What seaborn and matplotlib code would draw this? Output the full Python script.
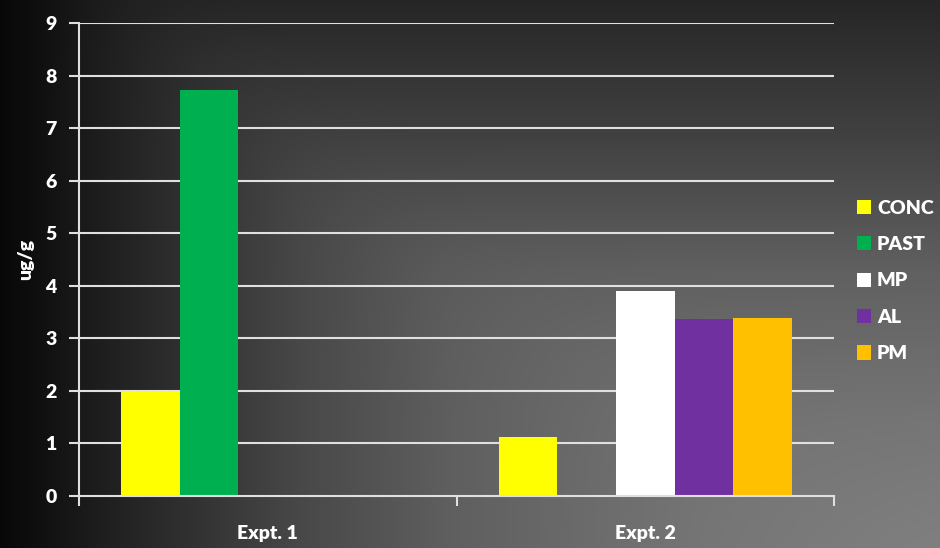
import numpy as np
import pandas as pd
import matplotlib
matplotlib.use("Agg")
import matplotlib.pyplot as plt
from matplotlib.patches import Patch
import seaborn as sns

# Data
experiments = ["Expt. 1", "Expt. 2"]
treatments = ["CONC", "PAST", "MP", "AL", "PM"]
expt1_values = [2.0, 7.73, 0.0, 0.0, 0.0]
expt2_values = [1.12, 0.0, 3.91, 3.36, 3.38]
colors = ["#FFFF00", "#00B050", "#FFFFFF", "#7030A0", "#FFC000"]
y_ticks = [0, 1, 2, 3, 4, 5, 6, 7, 8, 9]
y_label = "ug/g"

rows = []
for exp, vals in zip(experiments, [expt1_values, expt2_values]):
    for t, v in zip(treatments, vals):
        rows.append({"experiment": exp, "treatment": t, "value": v})
df = pd.DataFrame(rows)

sns.set_theme(style="white")
plt.rcParams["font.family"] = ["Lato", "DejaVu Sans"]
plt.rcParams["font.weight"] = "heavy"

W, H = 940, 548
fig = plt.figure(figsize=(W / 100, H / 100), dpi=100)

# Dark slide-style background gradient: dark at left and top, lighter toward lower right
bg = fig.add_axes([0, 0, 1, 1], zorder=-10)
xs = np.arange(W)
ys = np.arange(H)
hx = np.interp(xs, [0, 40, 100, 300, 450, 700, 940], [8, 16, 30, 72, 95, 118, 132])
hy = np.interp(ys, [0, 140, 270, 420, 548], [38, 66, 96, 118, 132])
HX, HY = np.meshgrid(hx, hy)
k = 7.0
val = -k * np.logaddexp(-HX / k, -HY / k)
val = np.clip(val, 0, 255) / 255.0
bg.imshow(np.dstack([val, val, val]), aspect="auto", extent=[0, 1, 0, 1], origin="upper")
bg.set_axis_off()

ax = fig.add_axes([79 / W, (H - 496) / H, 755 / W, 473 / H])
ax.set_zorder(1)
ax.patch.set_alpha(0)

sns.barplot(data=df, x="experiment", y="value", hue="treatment", order=experiments,
            hue_order=treatments, palette=colors, width=0.775, gap=0, linewidth=0,
            saturation=1, ax=ax, legend=False, zorder=3)

grid_color = "#e0e0e0"
lw = 1.5
ax.set_ylim(0, 9)
ax.set_xlim(-0.5, 1.5)
ax.set_yticks(y_ticks)
ax.set_yticklabels([str(t) for t in y_ticks], color="white", fontsize=14, fontweight="heavy")
for yv in y_ticks[1:]:
    ax.axhline(yv, color=grid_color, linewidth=lw, zorder=1)

ax.set_xticks([0, 1])
ax.set_xticklabels(experiments, color="white", fontsize=14, fontweight="heavy")
ax.set_xticks([-0.5, 0.5, 1.5], minor=True)
ax.tick_params(axis="x", which="major", length=0, pad=21)
ax.tick_params(axis="x", which="minor", length=7, width=lw, color=grid_color, direction="out")
ax.tick_params(axis="y", length=7, width=lw, color=grid_color, direction="out", pad=9)
ax.tick_params(left=True, bottom=True, which="both")

for side in ["top", "right"]:
    ax.spines[side].set_visible(False)
for side in ["left", "bottom"]:
    ax.spines[side].set_color(grid_color)
    ax.spines[side].set_linewidth(lw)
    ax.spines[side].set_zorder(4)

ax.set_xlabel("")
ax.set_ylabel(y_label, color="white", fontsize=14, fontweight="heavy", labelpad=8)

handles = [Patch(facecolor=c, edgecolor="none", label=t) for t, c in zip(treatments, colors)]
leg = fig.legend(handles=handles, loc="center left", bbox_to_anchor=(839 / W, 1 - 281 / H),
                 frameon=False, fontsize=14, handlelength=0.75, handleheight=0.75,
                 handletextpad=0.3, labelspacing=1.0)
for txt in leg.get_texts():
    txt.set_color("white")
    txt.set_fontweight("heavy")

fig.savefig("out.png", dpi=100)
